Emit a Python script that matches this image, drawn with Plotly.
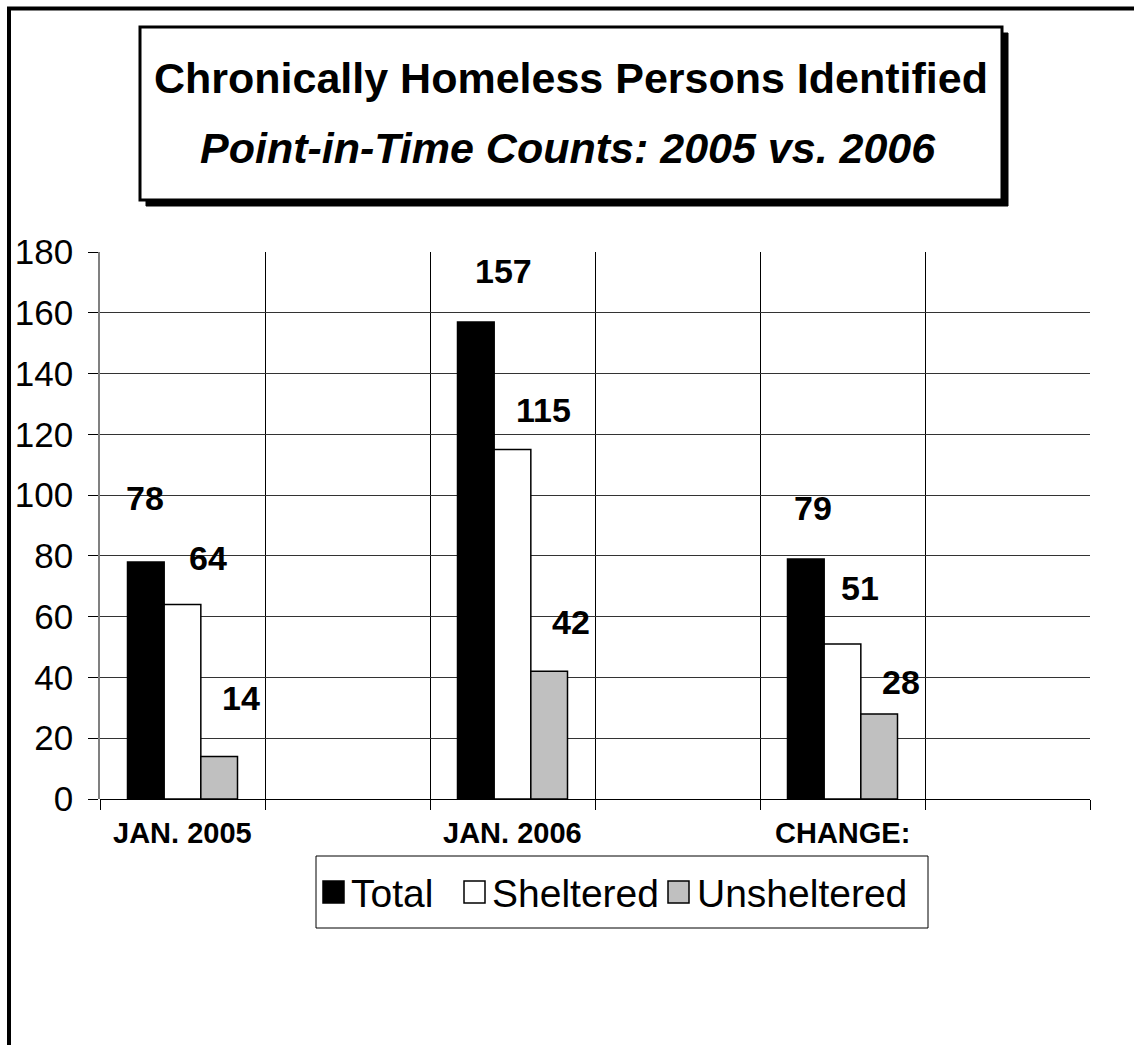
import plotly.graph_objects as go

# ---------------- data ----------------
periods = ["JAN. 2005", "JAN. 2006", "CHANGE:"]
series_names = ["Total", "Sheltered", "Unsheltered"]
total = [78, 157, 79]
sheltered = [64, 115, 51]
unsheltered = [14, 42, 28]
y_ticks = [0, 20, 40, 60, 80, 100, 120, 140, 160, 180]

title_line1 = "Chronically Homeless Persons Identified"
title_line2 = "Point-in-Time Counts: 2005 vs. 2006"

# ---------------- styling / layout constants ----------------
W, H = 1134, 1045
PL, PR, PT, PB = 100, 1090, 252, 799
FONT = "Liberation Sans, Arial, sans-serif"
colors = ["#000000", "#ffffff", "#c0c0c0"]

# label offsets (pixels) relative to category centre / bar top
label_dx = [[-37.5, -9.5, -30], [25.5, 31, 17.5], [58.5, 58.5, 58.5]]
label_dy = [[64, 50.5, 51], [47, 40, 56.5], [58.5, 49, 32]]


def fx(px):
    return (px - PL) / (PR - PL)


def fy(py):
    return (PB - py) / (PB - PT)


# six category slots: each period followed by an empty slot
gap_names = ["gap-1", "gap-2", "gap-3"]
slots = []
for p, g in zip(periods, gap_names):
    slots += [p, g]


def pad(vals):
    out = []
    for v in vals:
        out += [v, None]
    return out


fig = go.Figure()
all_series = [total, sheltered, unsheltered]
for name, vals, col in zip(series_names, all_series, colors):
    fig.add_trace(go.Bar(
        x=slots, y=pad(vals), name=name,
        marker=dict(color=col, line=dict(color="#000000", width=1.5)),
        showlegend=False, hoverinfo="skip",
    ))

annotations = []
# data labels
for si, vals in enumerate(all_series):
    for pi, v in enumerate(vals):
        annotations.append(dict(
            x=periods[pi], y=v, xref="x", yref="y",
            text=str(v), showarrow=False,
            xanchor="center", yanchor="middle",
            xshift=label_dx[si][pi], yshift=label_dy[si][pi],
            font=dict(family=FONT, size=34, color="#000000", weight="bold"),
        ))

# category labels (only under the populated slots)
for p in periods:
    annotations.append(dict(
        x=p, y=fy(833), xref="x", yref="paper", text=p,
        showarrow=False, xanchor="center", yanchor="middle",
        font=dict(family=FONT, size=29, color="#000000", weight="bold"),
    ))

# title text
annotations.append(dict(
    x=fx(571), y=fy(78), xref="paper", yref="paper", text="<b>" + title_line1 + "</b>",
    showarrow=False, xanchor="center", yanchor="middle",
    font=dict(family=FONT, size=43, color="#000000"),
))
annotations.append(dict(
    x=fx(568), y=fy(148), xref="paper", yref="paper", text="<b><i>" + title_line2 + "</i></b>",
    showarrow=False, xanchor="center", yanchor="middle",
    font=dict(family=FONT, size=43, color="#000000"),
))

shapes = []
# outer frame
shapes.append(dict(type="rect", xref="paper", yref="paper",
                   x0=fx(9), x1=fx(1150), y0=fy(8.5), y1=fy(1070),
                   line=dict(color="#000000", width=4), fillcolor="rgba(0,0,0,0)", layer="below"))
# title box shadow + box
shapes.append(dict(type="rect", xref="paper", yref="paper",
                   x0=fx(146), x1=fx(1008), y0=fy(33), y1=fy(206),
                   line=dict(color="#000000", width=1), fillcolor="#000000", layer="above"))
shapes.append(dict(type="rect", xref="paper", yref="paper",
                   x0=fx(140), x1=fx(1002), y0=fy(27), y1=fy(200),
                   line=dict(color="#000000", width=3), fillcolor="#ffffff", layer="above"))

# legend (manual)
shapes.append(dict(type="rect", xref="paper", yref="paper",
                   x0=fx(316), x1=fx(928), y0=fy(856), y1=fy(928),
                   line=dict(color="#000000", width=1), fillcolor="#ffffff", layer="above"))
sym_x = [323, 464, 668]
txt_x = [349, 490, 695]
for name, col, sx, tx in zip(series_names, colors, sym_x, txt_x):
    shapes.append(dict(type="rect", xref="paper", yref="paper",
                       x0=fx(sx), x1=fx(sx + 21), y0=fy(881), y1=fy(903),
                       line=dict(color="#000000", width=1.5), fillcolor=col, layer="above"))
    annotations.append(dict(
        x=fx(tx), y=fy(893), xref="paper", yref="paper", text=name,
        showarrow=False, xanchor="left", yanchor="middle",
        font=dict(family=FONT, size=39, color="#000000"),
    ))

fig.update_layout(
    width=W, height=H,
    margin=dict(l=PL, r=W - PR, t=PT, b=H - PB, pad=0),
    paper_bgcolor="#ffffff", plot_bgcolor="#ffffff",
    barmode="group", bargap=1 / 3, bargroupgap=0,
    font=dict(family=FONT, color="#000000"),
    showlegend=False,
    annotations=annotations, shapes=shapes,
    xaxis=dict(
        type="category", categoryorder="array", categoryarray=slots,
        tickson="boundaries", ticks="outside", ticklen=10, tickcolor="#000000", tickwidth=1,
        showgrid=True, gridcolor="#000000", gridwidth=1,
        showline=False, zeroline=False, showticklabels=False,
    ),
    yaxis=dict(
        range=[0, 180], tickmode="array", tickvals=y_ticks,
        ticks="outside", ticklen=10, tickcolor="#000000", tickwidth=1,
        showgrid=True, gridcolor="#333333", gridwidth=1,
        showline=True, linecolor="#808080", linewidth=1.5,
        zeroline=True, zerolinecolor="#000000", zerolinewidth=1,
        tickfont=dict(family=FONT, size=35, color="#000000"),
        ticklabelstandoff=8,
    ),
)

fig.write_html("out.html")
